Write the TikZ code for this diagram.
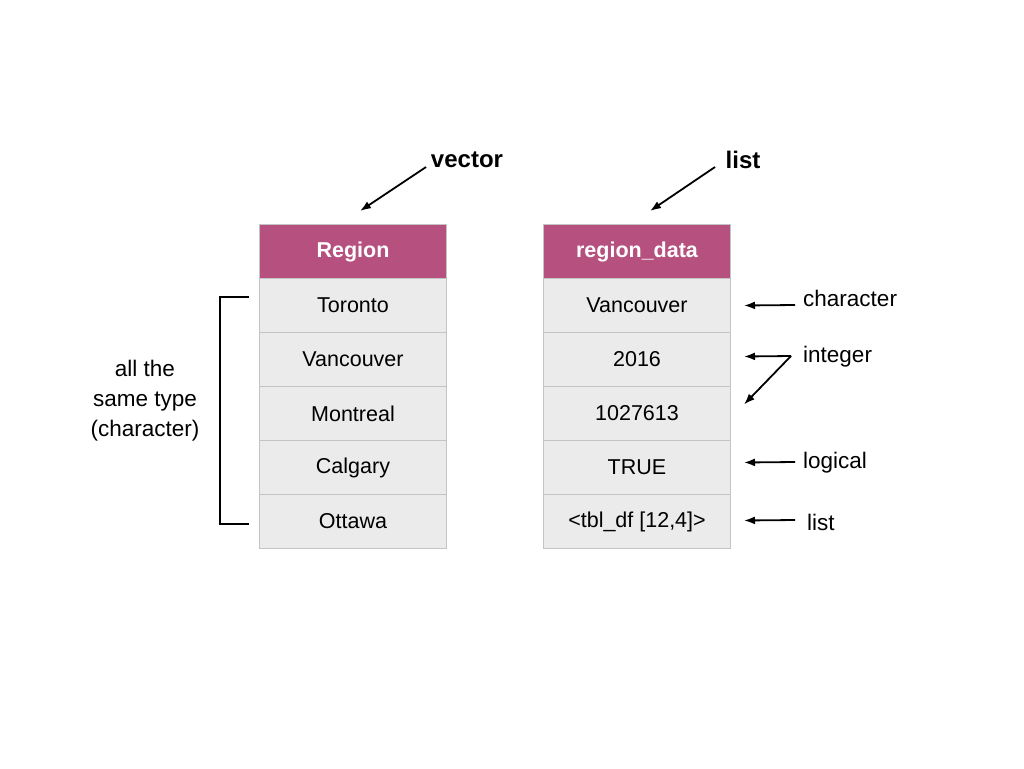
\documentclass[tikz,border=0pt]{standalone}
\usepackage{fontspec}
\setmainfont{Liberation Sans}
\usetikzlibrary{arrows.meta,calc}
\definecolor{hdr}{HTML}{B5507F}
\definecolor{cellfill}{HTML}{EBEBEB}
\definecolor{cellline}{HTML}{C4C4C4}
\begin{document}
\begin{tikzpicture}[x=1pt,y=-1pt,
  cell/.style={draw=cellline,line width=1pt,fill=cellfill,minimum width=187pt,minimum height=54pt,inner sep=0pt,font=\fontsize{21.5}{24}\selectfont,anchor=north west},
  head/.style={cell,fill=hdr,text=white,font=\fontsize{21.5}{24}\selectfont\bfseries},
  lbl/.style={font=\fontsize{22.5}{26}\selectfont,anchor=west,inner sep=0pt},
  title/.style={font=\fontsize{24}{28}\selectfont\bfseries,inner sep=0pt},
  arr/.style={-{Latex[length=11pt,width=8pt]},line width=1.8pt},
  brk/.style={line width=2pt}]
\useasboundingbox (0,0) rectangle (1024,768);
% left table
\node[head] (lh) at (259,224) {Region};
\node[cell] (l1) at (259,278) {Toronto};
\node[cell] (l2) at (259,332) {Vancouver};
\node[cell] (l3) at (259,386) {Montreal};
\node[cell] (l4) at (259,440) {Calgary};
\node[cell] (l5) at (259,494) {Ottawa};
% right table
\node[head] (rh) at (543,224) {region\_data};
\node[cell] (r1) at (543,278) {Vancouver};
\node[cell] (r2) at (543,332) {2016};
\node[cell] (r3) at (543,386) {1027613};
\node[cell] (r4) at (543,440) {TRUE};
\node[cell] (r5) at (543,494) {<tbl\_df [12,4]>};
% titles
\node[title] (vec) at (467,160) {vector};
\node[title] (lst) at (743,160) {list};
\coordinate (vs) at (426,167);
\coordinate (ve) at (360,211);
\coordinate (ls) at (715,167);
\coordinate (le) at (650,211);
\draw[arr] (vs) -- (ve);
\draw[arr] (ls) -- (le);
% bracket
\coordinate (bt) at (249,297);
\coordinate (bb) at (249,524);
\draw[brk] (bt) -- (220,297) -- (220,524) -- (bb);
\node[font=\fontsize{22.5}{30}\selectfont,align=center] (same) at (145,401) {all the\\same type\\(character)};
% right labels
\node[lbl] (tchar) at (803,298) {character};
\node[lbl] (tint) at (803,357) {integer};
\node[lbl] (tlog) at (803,463) {logical};
\node[lbl] (tlist) at (807,522) {list};
\coordinate (a1) at ($(r1.east)+(13,0)$);
\coordinate (a2) at ($(r2.east)+(13,-3)$);
\coordinate (a3) at ($(r3.east)+(13,-9)$);
\coordinate (a4) at ($(r4.east)+(13,-5)$);
\coordinate (a5) at ($(r5.east)+(13,-1)$);
\draw[arr] (795,305) -- (a1);
\draw[arr] (791,356) -- (a2);
\draw[arr] (791,356) -- (a3);
\draw[arr] (795,462) -- (a4);
\draw[arr] (795,520) -- (a5);
\end{tikzpicture}
\end{document}
